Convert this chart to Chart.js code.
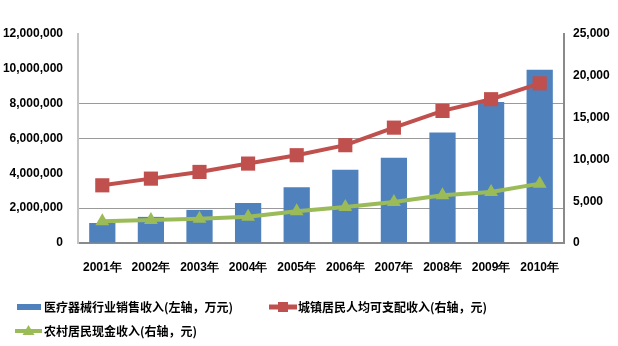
<!DOCTYPE html>
<html>
<head>
<meta charset="utf-8">
<script src="https://cdn.jsdelivr.net/npm/chart.js@4"></script>
<style>
  html, body { margin: 0; padding: 0; background: #fff; }
  #wrap { width: 618px; height: 346px; }
</style>
</head>
<body>
<div id="wrap"><canvas id="myChart" width="618" height="346"></canvas></div>
<script>
// years on the category axis
const years = ['2001年', '2002年', '2003年', '2004年', '2005年', '2006年', '2007年', '2008年', '2009年', '2010年'];

// medical device industry sales (left axis, 10k yuan)
const salesRevenue = [1150000, 1500000, 1900000, 2300000, 3200000, 4200000, 4900000, 6350000, 8100000, 9950000];
// urban per-capita disposable income (right axis, yuan)
const urbanIncome = [6900, 7700, 8500, 9500, 10500, 11700, 13800, 15800, 17200, 19100];
// rural cash income (right axis, yuan)
const ruralIncome = [2600, 2750, 2900, 3150, 3800, 4300, 4900, 5700, 6100, 7100];

const seriesNames = [
  '医疗器械行业销售收入(左轴，万元)',
  '城镇居民人均可支配收入(右轴，元)',
  '农村居民现金收入(右轴，元)'
];

const leftMax = 12000000, leftStep = 2000000;
const rightMax = 25000, rightStep = 5000;
// left-axis values that get a horizontal grid line
const gridValues = [2000000, 6000000, 8000000];

const BLUE = '#4F81BD', RED = '#C0504D', GREEN = '#9BBB59';
const tickFont = { family: 'Liberation Sans, Arial', size: 12, weight: 'bold' };
const fmt = v => Number(v).toLocaleString('en-US');

// legend drawn by hand so the items sit in two rows like the original
const legendPlugin = {
  id: 'twoRowLegend',
  afterDraw(chart) {
    const ctx = chart.ctx;
    const ds = chart.data.datasets;
    ctx.save();
    ctx.font = 'bold 12px "Noto Sans CJK SC", sans-serif';
    ctx.fillStyle = '#000';
    ctx.textBaseline = 'middle';

    // bar swatch
    ctx.fillStyle = ds[0].backgroundColor;
    ctx.fillRect(17, 304, 24, 6);
    ctx.fillStyle = '#000';
    ctx.fillText(ds[0].label, 44, 307);

    // line + square swatch
    ctx.strokeStyle = ds[1].borderColor;
    ctx.lineWidth = 5;
    ctx.beginPath(); ctx.moveTo(269, 307); ctx.lineTo(297, 307); ctx.stroke();
    ctx.fillStyle = ds[1].borderColor;
    ctx.fillRect(278, 302, 10, 10);
    ctx.fillStyle = '#000';
    ctx.fillText(ds[1].label, 298, 307);

    // line + triangle swatch
    ctx.strokeStyle = ds[2].borderColor;
    ctx.lineWidth = 4;
    ctx.beginPath(); ctx.moveTo(15, 331); ctx.lineTo(42, 331); ctx.stroke();
    ctx.fillStyle = ds[2].borderColor;
    ctx.beginPath(); ctx.moveTo(28.5, 325); ctx.lineTo(34.5, 335); ctx.lineTo(22.5, 335); ctx.closePath(); ctx.fill();
    ctx.fillStyle = '#000';
    ctx.fillText(ds[2].label, 44, 331);
    ctx.restore();
  }
};

const ctx = document.getElementById('myChart').getContext('2d');
const myChart = new Chart(ctx, {
  data: {
    labels: years,
    datasets: [
      {
        type: 'bar',
        label: seriesNames[0],
        data: salesRevenue,
        yAxisID: 'yLeft',
        backgroundColor: BLUE,
        borderWidth: 0,
        barPercentage: 0.54,
        categoryPercentage: 1,
        order: 3
      },
      {
        type: 'line',
        label: seriesNames[1],
        data: urbanIncome,
        yAxisID: 'yRight',
        borderColor: RED,
        backgroundColor: RED,
        borderWidth: 4,
        pointStyle: 'rect',
        pointRadius: 10,
        pointBorderWidth: 0,
        tension: 0,
        order: 1
      },
      {
        type: 'line',
        label: seriesNames[2],
        data: ruralIncome,
        yAxisID: 'yRight',
        borderColor: GREEN,
        backgroundColor: GREEN,
        borderWidth: 4,
        pointStyle: 'triangle',
        pointRadius: 8,
        pointBorderWidth: 0,
        tension: 0,
        order: 2
      }
    ]
  },
  options: {
    responsive: false,
    animation: false,
    events: [],
    layout: { padding: { top: 34, left: 0, right: 0, bottom: 0 } },
    plugins: {
      legend: { display: false },
      tooltip: { enabled: false }
    },
    scales: {
      x: {
        grid: { display: false, drawTicks: false },
        border: { color: '#8a8a8a', width: 2 },
        ticks: { color: '#000', font: tickFont, padding: 17, maxRotation: 0 },
        afterFit: s => { s.height = 103; }
      },
      yLeft: {
        position: 'left',
        min: 0,
        max: leftMax,
        grid: {
          drawTicks: false,
          color: c => gridValues.includes(c.tick.value) ? '#9a9a9a' : 'rgba(0,0,0,0)',
          lineWidth: 1
        },
        border: { color: '#c4c4c4', width: 2 },
        ticks: { stepSize: leftStep, color: '#000', font: tickFont, padding: 15, callback: fmt },
        afterFit: s => { s.width = 78; }
      },
      yRight: {
        position: 'right',
        min: 0,
        max: rightMax,
        grid: { drawOnChartArea: false, drawTicks: false },
        border: { color: '#8a8a8a', width: 2 },
        ticks: { stepSize: rightStep, color: '#000', font: tickFont, padding: 9, callback: fmt },
        afterFit: s => { s.width = 54; }
      }
    }
  },
  plugins: [legendPlugin]
});
</script>
</body>
</html>
